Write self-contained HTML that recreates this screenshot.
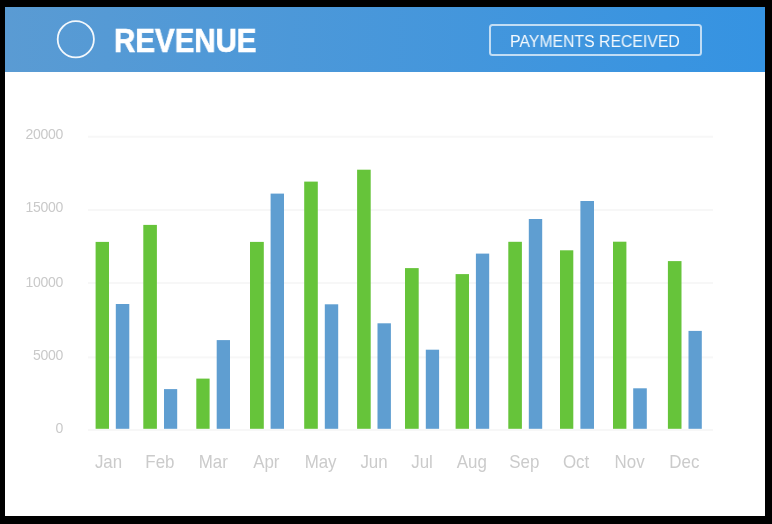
<!DOCTYPE html>
<html><head><meta charset="utf-8"><style>
html,body{margin:0;padding:0;}
body{width:772px;height:524px;background:#000;position:relative;overflow:hidden;font-family:"Liberation Sans",sans-serif;-webkit-font-smoothing:antialiased;}
.card{position:absolute;left:5px;top:7px;width:760px;height:509px;background:#fff;}
.hdr{position:absolute;left:5px;top:7px;width:760px;height:65px;background:linear-gradient(90deg,#5a9bd3,#3593e2);}
.title{position:absolute;left:114.2px;top:21px;font-size:33.5px;font-weight:bold;color:#fff;line-height:40px;white-space:nowrap;transform-origin:0 0;transform:scaleX(0.88);-webkit-text-stroke:0.7px #fff;will-change:transform;}
.btn{position:absolute;left:489.2px;top:24.2px;width:209px;height:27.5px;border:2px solid rgba(255,255,255,0.68);border-radius:3.5px;}
.btnt{position:absolute;left:510px;top:31.6px;font-size:16px;color:rgba(255,255,255,0.95);line-height:20px;white-space:nowrap;transform-origin:0 0;transform:scaleX(0.988);will-change:transform;}
svg{position:absolute;left:0;top:0;will-change:transform;}
</style></head><body>
<div class="card"></div>
<div class="hdr"></div>
<svg width="772" height="80" style="position:absolute;left:0;top:0"><circle cx="75.8" cy="39.3" r="18.1" fill="none" stroke="rgba(255,255,255,0.93)" stroke-width="1.8"/></svg>
<div class="title">REVENUE</div>
<div class="btn"></div>
<div class="btnt">PAYMENTS RECEIVED</div>
<svg width="772" height="524" viewBox="0 0 772 524">
<rect x="88" y="135.7" width="625" height="2" fill="#f7f7f7"/>
<rect x="88" y="209" width="625" height="2" fill="#f7f7f7"/>
<rect x="88" y="282" width="625" height="2" fill="#f7f7f7"/>
<rect x="88" y="356.4" width="625" height="2" fill="#f7f7f7"/>
<rect x="88" y="429" width="625" height="2" fill="#f7f7f7"/>
<rect x="95.6" y="241.9" width="13.4" height="186.9" fill="#66c43a"/>
<rect x="143.3" y="224.9" width="13.6" height="203.9" fill="#66c43a"/>
<rect x="196.3" y="378.6" width="13.3" height="50.2" fill="#66c43a"/>
<rect x="250" y="241.9" width="13.8" height="186.9" fill="#66c43a"/>
<rect x="304.2" y="181.6" width="13.6" height="247.2" fill="#66c43a"/>
<rect x="357.1" y="169.7" width="13.6" height="259.1" fill="#66c43a"/>
<rect x="405" y="268.1" width="13.7" height="160.7" fill="#66c43a"/>
<rect x="455.6" y="274.1" width="13.4" height="154.7" fill="#66c43a"/>
<rect x="508.3" y="241.8" width="13.6" height="187.0" fill="#66c43a"/>
<rect x="560" y="250.3" width="13.3" height="178.5" fill="#66c43a"/>
<rect x="613" y="241.7" width="13.4" height="187.1" fill="#66c43a"/>
<rect x="667.9" y="261.1" width="13.6" height="167.7" fill="#66c43a"/>
<rect x="115.8" y="304" width="13.5" height="124.8" fill="#5f9ed1"/>
<rect x="164" y="389.1" width="13.2" height="39.7" fill="#5f9ed1"/>
<rect x="216.7" y="340.1" width="13.3" height="88.7" fill="#5f9ed1"/>
<rect x="270.6" y="193.6" width="13.4" height="235.2" fill="#5f9ed1"/>
<rect x="324.8" y="304.3" width="13.4" height="124.5" fill="#5f9ed1"/>
<rect x="377.5" y="323.3" width="13.4" height="105.5" fill="#5f9ed1"/>
<rect x="425.8" y="349.7" width="13.3" height="79.1" fill="#5f9ed1"/>
<rect x="475.9" y="253.6" width="13.3" height="175.2" fill="#5f9ed1"/>
<rect x="528.8" y="219" width="13.4" height="209.8" fill="#5f9ed1"/>
<rect x="580.4" y="201" width="13.6" height="227.8" fill="#5f9ed1"/>
<rect x="633.2" y="388.3" width="13.6" height="40.5" fill="#5f9ed1"/>
<rect x="688.5" y="330.9" width="13.3" height="97.9" fill="#5f9ed1"/>
<g font-family="Liberation Sans" font-size="14" fill="#c9c9c9" letter-spacing="-0.3">
<text x="63" y="139.4" text-anchor="end">20000</text>
<text x="63" y="212.2" text-anchor="end">15000</text>
<text x="63" y="286.6" text-anchor="end">10000</text>
<text x="63" y="359.7" text-anchor="end">5000</text>
<text x="63" y="433" text-anchor="end">0</text>
</g>
<g font-family="Liberation Sans" font-size="18" fill="#cbcbcb">
<text transform="translate(108.5,467.8) scale(0.94,1)" text-anchor="middle">Jan</text>
<text transform="translate(159.9,467.8) scale(0.94,1)" text-anchor="middle">Feb</text>
<text transform="translate(213.3,467.8) scale(0.94,1)" text-anchor="middle">Mar</text>
<text transform="translate(266.3,467.8) scale(0.94,1)" text-anchor="middle">Apr</text>
<text transform="translate(320.6,467.8) scale(0.94,1)" text-anchor="middle">May</text>
<text transform="translate(374.0,467.8) scale(0.94,1)" text-anchor="middle">Jun</text>
<text transform="translate(422.0,467.8) scale(0.94,1)" text-anchor="middle">Jul</text>
<text transform="translate(471.8,467.8) scale(0.94,1)" text-anchor="middle">Aug</text>
<text transform="translate(524.3,467.8) scale(0.94,1)" text-anchor="middle">Sep</text>
<text transform="translate(576.1,467.8) scale(0.94,1)" text-anchor="middle">Oct</text>
<text transform="translate(629.6,467.8) scale(0.94,1)" text-anchor="middle">Nov</text>
<text transform="translate(684.4,467.8) scale(0.94,1)" text-anchor="middle">Dec</text>
</g>
</svg>
</body></html>
